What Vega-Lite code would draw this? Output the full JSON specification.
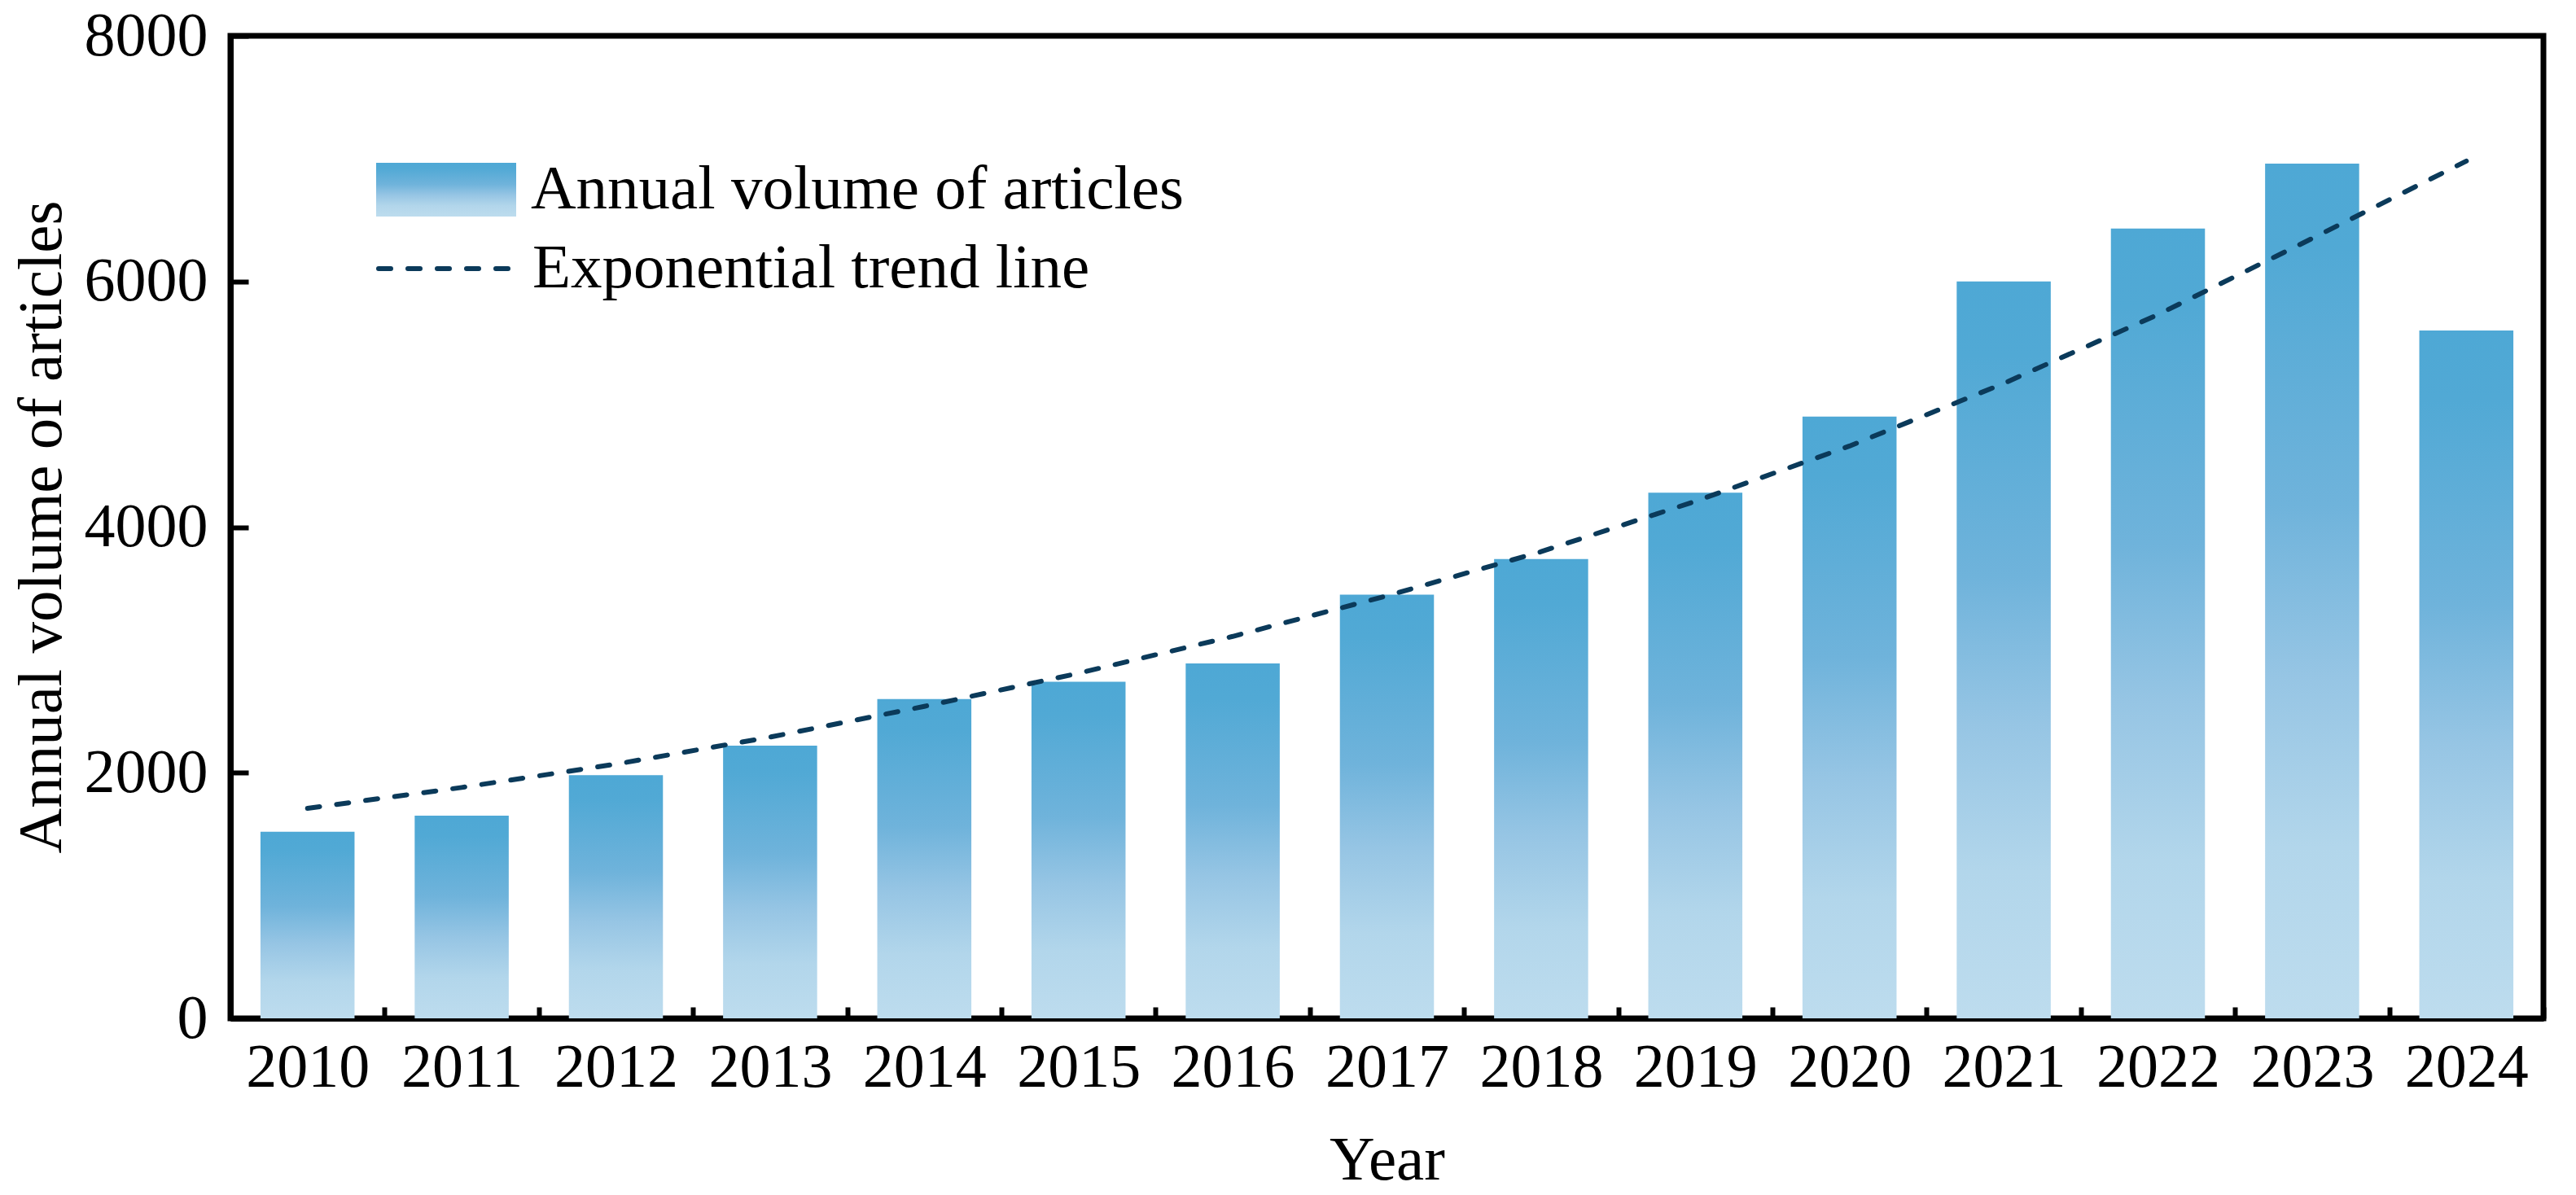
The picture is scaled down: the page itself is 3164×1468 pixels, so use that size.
{
  "$schema": "https://vega.github.io/schema/vega-lite/v6.json",
  "width": 2841,
  "height": 1207,
  "autosize": {"type": "none"},
  "padding": {"left": 283, "top": 44, "right": 40, "bottom": 217},
  "background": "white",
  "config": {
    "font": "Liberation Serif",
    "view": {"stroke": "black", "strokeWidth": 7},
    "axis": {
      "labelFont": "Liberation Serif",
      "labelFontSize": 76,
      "labelColor": "black",
      "titleFont": "Liberation Serif",
      "titleFontSize": 77,
      "titleFontWeight": "normal",
      "titleColor": "black",
      "domainColor": "black",
      "domainWidth": 7,
      "tickColor": "black",
      "tickWidth": 6,
      "grid": false,
      "zindex": 1
    },
    "legend": {
      "orient": "none",
      "padding": 0,
      "labelFont": "Liberation Serif",
      "labelFontSize": 77,
      "labelColor": "black",
      "labelLimit": 2000
    }
  },
  "data": {
    "values": [
      {"year": "2010", "articles": 1520, "trend": 1710},
      {"year": "2011", "articles": 1650, "trend": 1880},
      {"year": "2012", "articles": 1980, "trend": 2070},
      {"year": "2013", "articles": 2220, "trend": 2290},
      {"year": "2014", "articles": 2600, "trend": 2540},
      {"year": "2015", "articles": 2740, "trend": 2810},
      {"year": "2016", "articles": 2890, "trend": 3110},
      {"year": "2017", "articles": 3450, "trend": 3440},
      {"year": "2018", "articles": 3740, "trend": 3800},
      {"year": "2019", "articles": 4280, "trend": 4210},
      {"year": "2020", "articles": 4900, "trend": 4660},
      {"year": "2021", "articles": 6000, "trend": 5170},
      {"year": "2022", "articles": 6430, "trend": 5730},
      {"year": "2023", "articles": 6960, "trend": 6350},
      {"year": "2024", "articles": 5600, "trend": 6980}
    ]
  },
  "encoding": {
    "x": {
      "field": "year",
      "type": "ordinal",
      "title": "Year",
      "scale": {"paddingInner": 0.39, "paddingOuter": 0.195},
      "axis": {
        "labelAngle": 0,
        "tickSize": -14,
        "tickOffset": 94.7,
        "labelOffset": -94.7,
        "labelPadding": 37,
        "titleY": 197,
        "titleBaseline": "alphabetic"
      }
    }
  },
  "layer": [
    {
      "mark": {
        "type": "bar",
        "fill": {
          "gradient": "linear",
          "x1": 0, "y1": 0, "x2": 0, "y2": 1,
          "stops": [
            {"offset": 0, "color": "#4ea8d5"},
            {"offset": 0.1, "color": "#51a9d5"},
            {"offset": 0.4, "color": "#6fb3db"},
            {"offset": 0.6, "color": "#96c5e4"},
            {"offset": 0.8, "color": "#b2d6eb"},
            {"offset": 1, "color": "#bddcee"}
          ]
        }
      },
      "encoding": {
        "y": {
          "field": "articles",
          "type": "quantitative",
          "title": "Annual volume of articles",
          "scale": {"domain": [0, 8000], "nice": false},
          "axis": {
            "values": [0, 2000, 4000, 6000, 8000],
            "format": "d",
            "tickSize": -22,
            "labelPadding": 50,
            "titleX": -209,
            "titleY": 603,
            "titleBaseline": "alphabetic",
            "titleAngle": -90
          }
        },
        "opacity": {
          "datum": "Annual volume of articles",
          "type": "nominal",
          "scale": {"type": "ordinal", "range": [1]},
          "legend": {
            "title": null,
            "legendX": 179,
            "legendY": 103,
            "symbolType": "M-1,-0.384H1V0.384H-1Z",
            "symbolSize": 29584,
            "symbolStrokeWidth": 0,
            "labelOffset": 18,
            "encode": {
              "symbols": {
                "update": {
                  "fill": {
                    "value": {
                      "gradient": "linear",
                      "x1": 0, "y1": 0, "x2": 0, "y2": 1,
                      "stops": [
                        {"offset": 0, "color": "#4ea8d5"},
                        {"offset": 0.15, "color": "#55abd7"},
                        {"offset": 0.5, "color": "#88bfe1"},
                        {"offset": 0.8, "color": "#b2d6eb"},
                        {"offset": 1, "color": "#bddcee"}
                      ]
                    }
                  },
                  "opacity": {"value": 1},
                  "strokeWidth": {"value": 0}
                }
              }
            }
          }
        }
      }
    },
    {
      "mark": {
        "type": "line",
        "color": "#0b3a5a",
        "strokeWidth": 6,
        "strokeCap": "round"
      },
      "encoding": {
        "y": {"field": "trend", "type": "quantitative"},
        "strokeDash": {
          "datum": "Exponential trend line",
          "type": "nominal",
          "scale": {"range": [[15, 21]]},
          "legend": {
            "title": null,
            "legendX": 179,
            "legendY": 199,
            "symbolType": "stroke",
            "symbolSize": 28224,
            "symbolStrokeColor": "#0b3a5a",
            "symbolStrokeWidth": 6,
            "labelOffset": 18,
            "encode": {
              "symbols": {"update": {"strokeCap": {"value": "round"}}}
            }
          }
        }
      }
    }
  ]
}
